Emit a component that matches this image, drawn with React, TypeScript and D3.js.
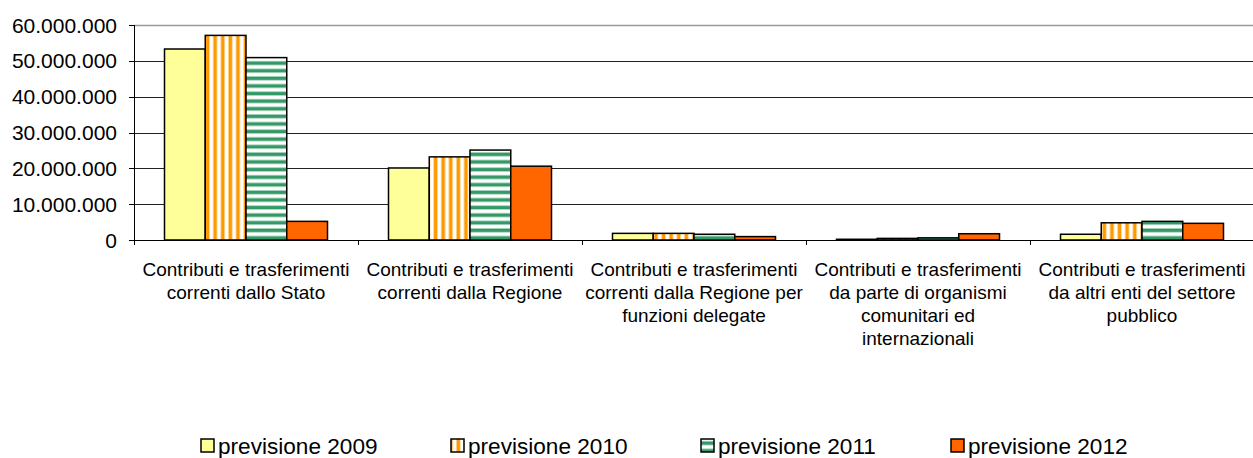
import React from "react";
import * as d3 from "d3";

const categories: string[][] = [
  ["Contributi e trasferimenti", "correnti dallo Stato"],
  ["Contributi e trasferimenti", "correnti dalla Regione"],
  ["Contributi e trasferimenti", "correnti dalla Regione per", "funzioni delegate"],
  ["Contributi e trasferimenti", "da parte di organismi", "comunitari ed", "internazionali"],
  ["Contributi e trasferimenti", "da altri enti del settore", "pubblico"],
];
const seriesNames = ["previsione 2009", "previsione 2010", "previsione 2011", "previsione 2012"];
const s2009 = [53300000, 20100000, 1850000, 200000, 1600000];
const s2010 = [57100000, 23200000, 1850000, 450000, 4800000];
const s2011 = [50900000, 25100000, 1600000, 600000, 5200000];
const s2012 = [5200000, 20600000, 950000, 1750000, 4650000];
const yTicks = [0, 10000000, 20000000, 30000000, 40000000, 50000000, 60000000];

const seriesValues = [s2009, s2010, s2011, s2012];
const fills = ["#FFFF99", "url(#pOrange)", "url(#pGreen)", "#FF6600"];

const W = 1253;
const H = 458;
const left = 134;
const right = 1254;
const top = 25;
const bottom = 240;
const FONT = "Arial, 'Liberation Sans', sans-serif";

const fmt = d3.formatLocale({ decimal: ",", thousands: ".", grouping: [3], currency: ["", ""] }).format(",.0f");

export default function App() {
  const idx = categories.map((_, i) => String(i));
  const x = d3.scaleBand<string>().domain(idx).range([left, right]).paddingInner(0).paddingOuter(0);
  const bw = x.bandwidth();
  const xs = d3.scaleBand<string>().domain(seriesNames).range([30.5, bw - 30.5]).padding(0);
  const y = d3.scaleLinear().domain([0, 60000000]).range([bottom, top]);

  return (
    <svg width={W} height={H} style={{ position: "absolute", left: 0, top: 0, background: "#fff" }}>
      <defs>
        <pattern id="pOrange" patternUnits="userSpaceOnUse" width={7.6} height={10}>
          <rect width={7.6} height={10} fill="#fff" />
          <rect x={0.6} width={3.4} height={10} fill="#FF9900" />
          <rect x={0} width={0.6} height={10} fill="#FFCC80" />
          <rect x={4} width={0.6} height={10} fill="#FFCC80" />
        </pattern>
        <pattern id="pGreen" patternUnits="userSpaceOnUse" width={10} height={7.6}>
          <rect width={10} height={7.6} fill="#fff" />
          <rect y={0.6} width={10} height={3.4} fill="#339966" />
          <rect y={0} width={10} height={0.6} fill="#99CCB3" />
          <rect y={4} width={10} height={0.6} fill="#99CCB3" />
        </pattern>
      </defs>

      {/* gridlines */}
      {yTicks.map((t) => (
        <line
          key={"g" + t}
          x1={left}
          x2={W}
          y1={Math.round(y(t)) + 0.5}
          y2={Math.round(y(t)) + 0.5}
          stroke={t === 60000000 ? "#999" : t === 0 ? "#000" : "#222"}
          strokeWidth={t === 60000000 ? 1.5 : 1}
        />
      ))}

      {/* bars */}
      {categories.map((_, ci) =>
        seriesValues.map((vals, si) => {
          const x0 = (x(String(ci)) as number) + (xs(seriesNames[si]) as number);
          const y0 = y(vals[ci]);
          return (
            <rect
              key={ci + "-" + si}
              x={x0}
              y={y0}
              width={xs.bandwidth()}
              height={bottom - y0}
              fill={fills[si]}
              stroke="#000"
              strokeWidth={1.5}
            />
          );
        })
      )}

      {/* y axis */}
      <line x1={left + 0.5} x2={left + 0.5} y1={top} y2={bottom + 0.5} stroke="#000" strokeWidth={1} />
      {yTicks.map((t) => (
        <g key={"t" + t}>
          <line x1={left - 5} x2={left} y1={Math.round(y(t)) + 0.5} y2={Math.round(y(t)) + 0.5} stroke="#000" />
          <text x={117} y={y(t) + 7.5} textAnchor="end" fontFamily={FONT} fontSize={21} fill="#000">
            {fmt(t)}
          </text>
        </g>
      ))}

      {/* x axis ticks */}
      {idx.map((d) => (
        <line
          key={"xt" + d}
          x1={Math.round(x(d) as number) + 0.5}
          x2={Math.round(x(d) as number) + 0.5}
          y1={bottom}
          y2={bottom + 5}
          stroke="#000"
        />
      ))}

      {/* category labels */}
      {categories.map((lines, ci) => (
        <text
          key={"c" + ci}
          x={(x(String(ci)) as number) + bw / 2}
          textAnchor="middle"
          fontFamily={FONT}
          fontSize={19}
          fill="#000"
        >
          {lines.map((l, li) => (
            <tspan key={li} x={(x(String(ci)) as number) + bw / 2} y={276 + li * 23}>
              {l}
            </tspan>
          ))}
        </text>
      ))}

      {/* legend */}
      {seriesNames.map((n, si) => {
        const lx = 201 + si * 250;
        return (
          <g key={"l" + si}>
            <rect x={lx} y={439} width={13} height={13} fill={fills[si]} stroke="#000" strokeWidth={1.5} />
            <text x={lx + 17} y={454} fontFamily={FONT} fontSize={22.6} fill="#000">
              {n}
            </text>
          </g>
        );
      })}
    </svg>
  );
}
